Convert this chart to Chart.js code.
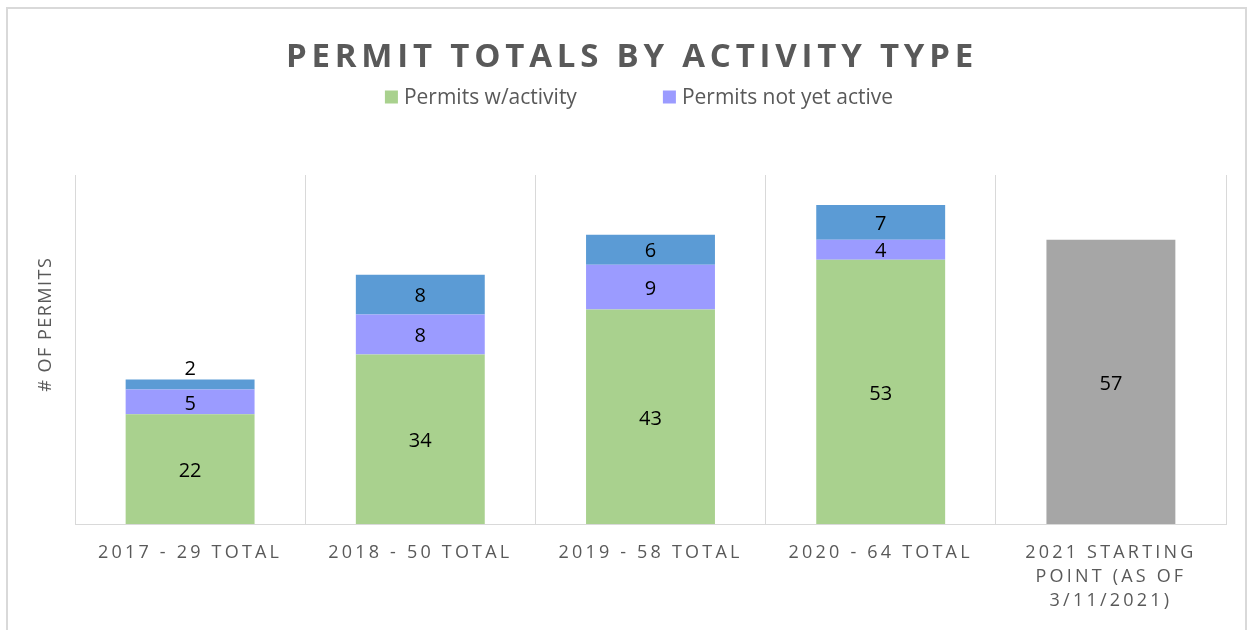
<!DOCTYPE html>
<html>
<head>
<meta charset="utf-8">
<script src="https://cdn.jsdelivr.net/npm/chart.js@4.4.1/dist/chart.umd.min.js"></script>
<style>
html, body { margin: 0; padding: 0; background: #fff; overflow: hidden; }
#frame { position: absolute; left: 6px; top: 7px; width: 1241px; height: 700px; border: 2px solid #d9d9d9; box-sizing: border-box; }
#wrap { position: absolute; left: 0; top: 0; width: 1253px; height: 630px; }
</style>
</head>
<body>
<div id="frame"></div>
<div id="wrap"><canvas id="permitChart"></canvas></div>
<script>
// chart data
var categories = [
    '2017 - 29 TOTAL',
    '2018 - 50 TOTAL',
    '2019 - 58 TOTAL',
    '2020 - 64 TOTAL',
    ['2021 STARTING', 'POINT (AS OF', '3/11/2021)']
];
var withActivity = [22, 34, 43, 53, null];
var notYetActive = [5, 8, 9, 4, null];
var otherPermits = [2, 8, 6, 7, null];
var startingPoint = [null, null, null, null, 57];
var yMax = 70;

var chartTitle = 'PERMIT TOTALS BY ACTIVITY TYPE';
var yTitle = '# OF PERMITS';
var fontFamily = "'Open Sans', 'DejaVu Sans', sans-serif";

// value labels, title, legend and axis title
var segmentLabels = {
    id: 'segmentLabels',
    afterDatasetsDraw: function (chart) {
        var ctx = chart.ctx;
        ctx.save();
        ctx.letterSpacing = '0px';
        ctx.font = '20px ' + fontFamily;
        ctx.fillStyle = '#000';
        ctx.textAlign = 'center';
        ctx.textBaseline = 'middle';
        chart.data.datasets.forEach(function (ds, i) {
            var meta = chart.getDatasetMeta(i);
            meta.data.forEach(function (bar, j) {
                var v = ds.data[j];
                if (v === null || v === undefined) return;
                var p = bar.getProps(['x', 'y', 'base'], true);
                var h = p.base - p.y;
                var cy = h < 16 ? p.y - 10 : (p.y + p.base) / 2 + 2;
                ctx.fillText(String(v), p.x, cy);
            });
        });
        ctx.restore();
        // x tick labels (drawn on a later layer) are letter-spaced
        ctx.letterSpacing = '3.2px';
    },
    afterDraw: function (chart) {
        var ctx = chart.ctx;
        ctx.letterSpacing = '0px';
        ctx.save();

        // title
        ctx.letterSpacing = '4.8px';
        ctx.font = 'bold 33px ' + fontFamily;
        ctx.fillStyle = '#595959';
        ctx.textAlign = 'center';
        ctx.textBaseline = 'middle';
        ctx.fillText(chartTitle, 632, 58);

        // legend (only the first two series, like the original)
        ctx.letterSpacing = '0px';
        ctx.font = '21px ' + fontFamily;
        ctx.textAlign = 'left';
        var items = chart.data.datasets.slice(0, 2);
        var gap = 86, box = 13;
        var widths = items.map(function (ds) { return box + 6 + ctx.measureText(ds.label).width; });
        var total = widths.reduce(function (a, b) { return a + b; }, 0) + gap * (items.length - 1);
        var x = 639 - total / 2;
        var y = 97;
        items.forEach(function (ds, k) {
            ctx.fillStyle = ds.backgroundColor;
            ctx.fillRect(x, y - box / 2, box, box);
            ctx.fillStyle = '#595959';
            ctx.fillText(ds.label, x + box + 6, y + 1);
            x += widths[k] + gap;
        });

        // y axis title
        ctx.translate(46, 325);
        ctx.rotate(-Math.PI / 2);
        ctx.letterSpacing = '1.5px';
        ctx.font = '18px ' + fontFamily;
        ctx.textAlign = 'center';
        ctx.fillText(yTitle, 0.75, 0);
        ctx.restore();
    }
};

var ctx = document.getElementById('permitChart').getContext('2d');
var permitChart = new Chart(ctx, {
    type: 'bar',
    data: {
        labels: categories,
        datasets: [
            { label: 'Permits w/activity', data: withActivity, backgroundColor: '#a9d18e' },
            { label: 'Permits not yet active', data: notYetActive, backgroundColor: '#9b9bff' },
            { label: 'Permits renewed', data: otherPermits, backgroundColor: '#5b9bd5' },
            { label: '2021 starting point', data: startingPoint, backgroundColor: '#a6a6a6' }
        ]
    },
    options: {
        responsive: true,
        maintainAspectRatio: false,
        animation: false,
        categoryPercentage: 0.56,
        barPercentage: 1,
        layout: {
            padding: { top: 175, left: 75, right: 27, bottom: 0 }
        },
        plugins: {
            legend: { display: false },
            title: { display: false },
            tooltip: { enabled: false }
        },
        scales: {
            x: {
                stacked: true,
                grid: { display: true, offset: true, color: '#d9d9d9', lineWidth: 1, drawTicks: false },
                border: { display: true, color: '#d9d9d9', width: 1 },
                ticks: {
                    z: 1,
                    color: '#595959',
                    padding: 17,
                    autoSkip: false,
                    maxRotation: 0,
                    minRotation: 0,
                    font: { family: fontFamily, size: 18, lineHeight: 1.333 }
                }
            },
            y: {
                stacked: true,
                min: 0,
                max: yMax,
                grid: { display: false, drawTicks: false },
                border: { display: false },
                ticks: { display: false },
                title: { display: false }
            }
        }
    },
    plugins: [segmentLabels]
});
</script>
</body>
</html>
